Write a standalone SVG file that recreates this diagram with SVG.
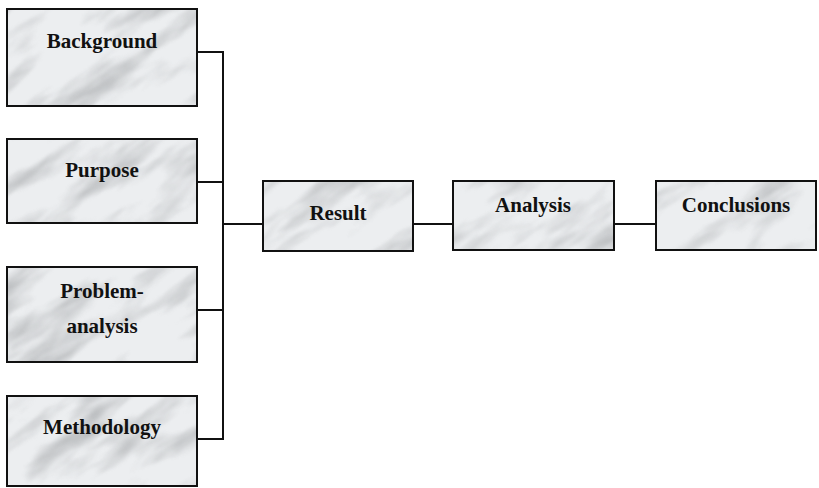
<svg xmlns="http://www.w3.org/2000/svg" width="819" height="488" viewBox="0 0 819 488">
<style>
.box{fill:url(#marble);stroke:#111;stroke-width:2}
.lbl{font-family:"Liberation Serif","Times New Roman",serif;font-weight:bold;font-size:21px;fill:#111;text-anchor:middle}
.con{fill:none;stroke:#111;stroke-width:2}
</style>
<defs>
<filter id="turb" filterUnits="userSpaceOnUse" x="-500" y="-500" width="1800" height="1500" color-interpolation-filters="sRGB">
<feTurbulence type="fractalNoise" baseFrequency="0.01 0.035" numOctaves="4" seed="7"/>
<feColorMatrix type="matrix" values="0 0 0 0 0.58  0 0 0 0 0.59  0 0 0 0 0.6  1.6 0 0 0 -0.74"/>
<feGaussianBlur stdDeviation="1"/>
</filter>
<pattern id="marble" patternUnits="userSpaceOnUse" x="0" y="0" width="819" height="488">
<rect width="819" height="488" fill="#eceef0"/>
<g transform="rotate(-35 410 244)">
<rect x="-400" y="-400" width="1600" height="1300" fill="#fff" filter="url(#turb)"/>
</g>
</pattern>
</defs>
<g id="connectors">
<path class="con" d="M197 52 H223 M197 182 H223 M197 310 H223 M197 439 H223 M223 51 V440"/>
<path class="con" d="M223 224 H263"/>
<path class="con" d="M413 224 H453"/>
<path class="con" d="M614 224 H656"/>
</g>
<g id="background"><rect class="box" x="7" y="9" width="190" height="97"/><text class="lbl" x="102" y="48">Background</text></g>
<g id="purpose"><rect class="box" x="7" y="139" width="190" height="84"/><text class="lbl" x="102" y="177">Purpose</text></g>
<g id="problem-analysis"><rect class="box" x="7" y="267" width="190" height="95"/><text class="lbl" x="102" y="298">Problem-</text><text class="lbl" x="102" y="333">analysis</text></g>
<g id="methodology"><rect class="box" x="7" y="396" width="190" height="90"/><text class="lbl" x="102" y="434">Methodology</text></g>
<g id="result"><rect class="box" x="263" y="181" width="150" height="70"/><text class="lbl" x="338" y="220">Result</text></g>
<g id="analysis"><rect class="box" x="453" y="181" width="161" height="69"/><text class="lbl" x="533" y="212">Analysis</text></g>
<g id="conclusions"><rect class="box" x="656" y="181" width="160" height="69"/><text class="lbl" x="736" y="212">Conclusions</text></g>
</svg>
